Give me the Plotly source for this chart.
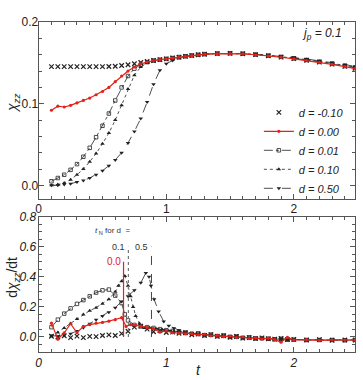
import plotly.graph_objects as go

# ---------------- data ----------------
legend_names = ["d = -0.10", "d = 0.00", "d = 0.01", "d = 0.10", "d = 0.50"]

# top panel: chi_zz(t)
t_top = [0.10, 0.15, 0.20, 0.25, 0.30, 0.35, 0.40, 0.45, 0.50, 0.55,
         0.60, 0.65, 0.70, 0.75, 0.80, 0.85, 0.90, 0.95, 1.00, 1.05,
         1.10, 1.15, 1.20, 1.25, 1.30, 1.40, 1.50, 1.60, 1.70, 1.80,
         1.90, 2.00, 2.10, 2.20, 2.30, 2.40, 2.48]
chi_m010 = [0.1455, 0.1455, 0.1455, 0.1455, 0.1455, 0.1455, 0.1455, 0.1455, 0.1455, 0.1456,
            0.1460, 0.1468, 0.1478, 0.1490, 0.1505, 0.1518, 0.1530, 0.1540, 0.1550, 0.1560,
            0.1570, 0.1580, 0.1590, 0.1600, 0.1607, 0.1615, 0.1617, 0.1612, 0.1602, 0.1588,
            0.1572, 0.1553, 0.1533, 0.1510, 0.1485, 0.1458, 0.1435]
chi_000 = [0.092, 0.097, 0.096, 0.098, 0.101, 0.104, 0.107, 0.111, 0.115, 0.120,
           0.127, 0.134, 0.140, 0.145, 0.149, 0.151, 0.153, 0.154, 0.155, 0.156,
           0.1570, 0.1580, 0.1590, 0.1598, 0.1605, 0.1613, 0.1615, 0.1612, 0.1600, 0.1587,
           0.1570, 0.1550, 0.1530, 0.1508, 0.1483, 0.1455, 0.1430]
chi_001 = [0.005, 0.009, 0.013, 0.019, 0.026, 0.035, 0.046, 0.059, 0.073, 0.088,
           0.104, 0.120, 0.134, 0.143, 0.148, 0.151, 0.153, 0.154, 0.155, 0.156,
           0.1572, 0.1582, 0.1592, 0.1600, 0.1608, 0.1616, 0.1618, 0.1613, 0.1603, 0.1590,
           0.1574, 0.1556, 0.1536, 0.1513, 0.1488, 0.1462, 0.1437]
chi_010 = [0.000, 0.001, 0.003, 0.007, 0.013, 0.020, 0.029, 0.039, 0.051, 0.064,
           0.080, 0.098, 0.118, 0.135, 0.145, 0.150, 0.152, 0.154, 0.155, 0.156,
           0.1570, 0.1580, 0.1590, 0.1600, 0.1607, 0.1615, 0.1618, 0.1614, 0.1605, 0.1592,
           0.1577, 0.1560, 0.1541, 0.1519, 0.1495, 0.1470, 0.1448]
chi_050 = [0.000, 0.000, 0.001, 0.002, 0.004, 0.006, 0.009, 0.013, 0.018, 0.024,
           0.031, 0.040, 0.052, 0.066, 0.082, 0.102, 0.124, 0.141, 0.149, 0.153,
           0.1560, 0.1580, 0.1590, 0.1600, 0.1607, 0.1615, 0.1618, 0.1615, 0.1607, 0.1596,
           0.1582, 0.1566, 0.1548, 0.1527, 0.1505, 0.1480, 0.1458]

# bottom panel: d chi_zz / dt
t_tail = [1.10, 1.15, 1.20, 1.25, 1.30, 1.35, 1.40, 1.45, 1.50, 1.55, 1.60, 1.65,
          1.70, 1.75, 1.80, 1.85, 1.90, 1.95, 2.00, 2.10, 2.20, 2.30, 2.40, 2.48]

t_dm010 = [0.10, 0.15, 0.20, 0.25, 0.30, 0.35, 0.40, 0.45, 0.50, 0.55,
           0.60, 0.65, 0.70, 0.75, 0.80, 0.85, 0.90, 0.95, 1.00, 1.05]
dchi_m010 = [0.005, 0.000, 0.008, -0.004, 0.006, -0.004, 0.004, 0.002, 0.010, 0.014,
             0.010, 0.022, 0.038, 0.065, 0.072, 0.052, 0.035, 0.042, 0.030, 0.032]
tail_m010 = [0.025, 0.028, 0.015, 0.020, 0.010, 0.016, 0.004, 0.008, -0.002, 0.003, -0.008, -0.004,
             -0.010, -0.006, -0.012, -0.014, -0.010, -0.018, -0.016, -0.020, -0.018, -0.022, -0.020, -0.020]

t_d000 = [0.10, 0.15, 0.20, 0.25, 0.30, 0.35, 0.40, 0.45, 0.50, 0.55,
          0.60, 0.65, 0.685, 0.72, 0.76, 0.80, 0.85, 0.90, 0.95, 1.00, 1.05]
dchi_000 = [0.092, -0.015, 0.028, 0.088, 0.028, 0.070, 0.082, 0.092, 0.097, 0.105,
            0.115, 0.128, 0.070, 0.082, 0.078, 0.070, 0.062, 0.055, 0.032, 0.040, 0.028]
tail_000 = [0.026, 0.020, 0.022, 0.014, 0.018, 0.008, 0.010, 0.002, 0.006, -0.004, 0.000, -0.010,
            -0.006, -0.014, -0.008, -0.016, -0.035, -0.002, -0.020, -0.018, -0.022, -0.020, -0.020, -0.020]

t_d001 = [0.10, 0.15, 0.20, 0.25, 0.30, 0.35, 0.40, 0.45, 0.50, 0.55,
          0.60, 0.65, 0.675, 0.70, 0.75, 0.80, 0.85, 0.90, 0.95, 1.00, 1.05]
dchi_001 = [0.065, 0.115, 0.155, 0.190, 0.220, 0.245, 0.270, 0.295, 0.310, 0.315,
            0.275, 0.225, 0.150, 0.110, 0.080, 0.070, 0.065, 0.060, 0.052, 0.045, 0.040]
tail_001 = [0.035, 0.030, 0.022, 0.024, 0.012, 0.016, 0.006, 0.010, 0.000, 0.004, -0.006, -0.002,
            -0.010, -0.008, -0.012, -0.016, -0.012, -0.018, -0.018, -0.020, -0.020, -0.020, -0.022, -0.020]

t_d010 = [0.10, 0.15, 0.20, 0.25, 0.30, 0.35, 0.40, 0.45, 0.50, 0.55,
          0.60, 0.625, 0.65, 0.675, 0.70, 0.72, 0.74, 0.76, 0.79, 0.83,
          0.87, 0.92, 0.97, 1.02, 1.06]
dchi_010 = [0.005, 0.030, 0.060, 0.090, 0.120, 0.150, 0.175, 0.195, 0.220, 0.250,
            0.300, 0.340, 0.370, 0.405, 0.340, 0.270, 0.200, 0.140, 0.090, 0.060,
            0.062, 0.055, 0.048, 0.040, 0.035]
tail_010 = [0.030, 0.026, 0.020, 0.018, 0.014, 0.012, 0.006, 0.004, 0.002, -0.002, -0.006, -0.008,
            -0.008, -0.012, -0.012, -0.014, -0.016, -0.016, -0.018, -0.020, -0.020, -0.020, -0.020, -0.020]

t_d050 = [0.10, 0.15, 0.20, 0.25, 0.30, 0.35, 0.40, 0.45, 0.50, 0.55,
          0.60, 0.65, 0.70, 0.75, 0.80, 0.84, 0.865, 0.88, 0.905, 0.94,
          0.98, 1.02, 1.06]
dchi_050 = [0.010, 0.004, 0.012, 0.022, 0.040, 0.062, 0.088, 0.114, 0.140, 0.165,
            0.195, 0.235, 0.270, 0.310, 0.360, 0.425, 0.400, 0.340, 0.250, 0.170,
            0.103, 0.075, 0.058]
tail_050 = [0.045, 0.028, 0.024, 0.018, 0.016, 0.010, 0.008, 0.004, 0.002, -0.002, -0.004, -0.006,
            -0.008, -0.010, -0.012, -0.014, -0.014, -0.016, -0.016, -0.018, -0.018, -0.018, -0.020, -0.020]

# t_N markers
tN_labels = ["0.0", "0.1", "0.5"]
tN_values = [0.665, 0.703, 0.884]
tN_tops = [0.50, 0.60, 0.60]

# ---------------- styles ----------------
RED = "#e2231a"
BLK = "#222222"
FONT = "Liberation Sans, Arial, sans-serif"

styles = [
    dict(mode="markers", marker=dict(symbol="x-thin-open", size=4.5, color=BLK, line=dict(width=1.2, color=BLK))),
    dict(mode="lines+markers", line=dict(color=RED, width=1.2),
         marker=dict(symbol="circle", size=3.2, color=RED)),
    dict(mode="lines+markers", line=dict(color=BLK, width=0.8, dash="dashdot"),
         marker=dict(symbol="square-open", size=3.5, color=BLK, line=dict(width=0.8, color=BLK))),
    dict(mode="lines+markers", line=dict(color=BLK, width=0.8, dash="dot"),
         marker=dict(symbol="triangle-up", size=4, color=BLK)),
    dict(mode="lines+markers", line=dict(color=BLK, width=0.8, dash="dash"),
         marker=dict(symbol="triangle-down", size=4, color=BLK)),
]

top_series = [chi_m010, chi_000, chi_001, chi_010, chi_050]
bot_t = [t_dm010 + t_tail, t_d000 + t_tail, t_d001 + t_tail, t_d010 + t_tail, t_d050 + t_tail]
bot_v = [dchi_m010 + tail_m010, dchi_000 + tail_000, dchi_001 + tail_001,
         dchi_010 + tail_010, dchi_050 + tail_050]

fig = go.Figure()
order = [4, 3, 2, 0, 1]  # draw red above others
for i in order:
    fig.add_trace(go.Scatter(x=t_top, y=top_series[i], name=legend_names[i],
                             legendrank=i, xaxis="x", yaxis="y", **styles[i]))
for i in order:
    fig.add_trace(go.Scatter(x=bot_t[i], y=bot_v[i], showlegend=False,
                             xaxis="x2", yaxis="y2", **styles[i]))

# t_N vertical lines
tn_styles = [dict(color=RED, width=1.2, dash="solid"),
             dict(color="#777777", width=1.2, dash="dot"),
             dict(color="#444444", width=1.0, dash="dash")]
for k in range(3):
    fig.add_trace(go.Scatter(x=[tN_values[k], tN_values[k]], y=[0.0, tN_tops[k]],
                             mode="lines", line=tn_styles[k], showlegend=False,
                             xaxis="x2", yaxis="y2", hoverinfo="skip"))
    fig.add_annotation(x=tN_values[k], y=tN_tops[k], xref="x2", yref="y2",
                       text=tN_labels[k], showarrow=False, xanchor="right", yanchor="middle",
                       xshift=-1,
                       font=dict(family=FONT, size=10 if k == 0 else 9,
                                 color=RED if k == 0 else "#333333"))

fig.add_annotation(x=0.58, y=0.705, xref="x2", yref="y2",
                   text="<i>t</i><sub> N</sub> for d  =", showarrow=False,
                   xanchor="center", yanchor="middle",
                   font=dict(family=FONT, size=8, color="#333333"))

axis_common = dict(showline=True, linecolor="#555555", linewidth=1, mirror="ticks",
                   ticks="inside", ticklen=5, tickcolor="#555555", showgrid=False,
                   zeroline=False)
x_dom = [36 / 363, 355 / 363]

fig.update_layout(
    width=363, height=380, margin=dict(l=0, r=0, t=0, b=0),
    paper_bgcolor="white", plot_bgcolor="white",
    font=dict(family=FONT, color="#222222"),
    xaxis=dict(domain=x_dom, range=[0, 2.48], anchor="y", tickvals=[0, 1, 2],
               ticktext=["0", "1", "2"], tickfont=dict(size=12),
               ticklabelstandoff=-2,
               minor=dict(dtick=0.1, tick0=0, ticks="inside", ticklen=3, tickcolor="#555555"),
               **axis_common),
    yaxis=dict(domain=[1 - 196 / 380, 1 - 15 / 380], range=[-0.0172, 0.2005], anchor="x",
               tickvals=[0.0, 0.1, 0.2], ticktext=["0.0", "0.1", "0.2"], tickfont=dict(size=12),
               ticklabelstandoff=-3,
               minor=dict(dtick=0.02, tick0=0, ticks="inside", ticklen=3, tickcolor="#555555"),
               **axis_common),
    xaxis2=dict(domain=x_dom, range=[0, 2.48], anchor="y2", tickvals=[0, 1, 2],
                ticktext=["0", "1", "2"], tickfont=dict(size=12, style="italic"),
                minor=dict(dtick=0.1, tick0=0, ticks="inside", ticklen=3, tickcolor="#555555"),
                **axis_common),
    yaxis2=dict(domain=[1 - 351.5 / 380, 1 - 213.5 / 380], range=[-0.1, 0.8], anchor="x2",
                tickvals=[0.0, 0.2, 0.4, 0.6, 0.8],
                ticktext=["0.0", "0.2", "0.4", "0.6", "0.8"],
                tickfont=dict(size=12, style="italic"),
                ticklabelstandoff=-1,
                minor=dict(dtick=0.05, tick0=0, ticks="inside", ticklen=3, tickcolor="#555555"),
                **axis_common),
    legend=dict(x=258 / 363, y=1 - 146 / 380, xanchor="left", yanchor="middle",
                bgcolor="rgba(0,0,0,0)", borderwidth=0, itemwidth=30,
                font=dict(family=FONT, size=11, style="italic", color="#222222"),
                traceorder="normal"),
    showlegend=True,
)

fig.add_annotation(x=10 / 363, y=1 - 98 / 380, xref="paper", yref="paper",
                   xanchor="center", yanchor="middle",
                   text="<i>χ</i><sub><i>zz</i></sub>", textangle=-90, showarrow=False,
                   font=dict(family=FONT, size=14))
fig.add_annotation(x=10 / 363, y=1 - 275 / 380, xref="paper", yref="paper",
                   xanchor="center", yanchor="middle",
                   text="d<i>χ</i><sub><i>zz</i></sub>/dt", textangle=-90, showarrow=False,
                   font=dict(family=FONT, size=14))
fig.add_annotation(x=197 / 363, y=1 - 370 / 380, xref="paper", yref="paper",
                   xanchor="center", yanchor="middle",
                   text="<i>t</i>", showarrow=False, font=dict(family=FONT, size=14))
fig.add_annotation(x=322 / 363, y=1 - 27 / 380, xref="paper", yref="paper",
                   xanchor="center", yanchor="middle",
                   text="<i>j</i><sub><i>p</i></sub><i> = 0.1</i>", showarrow=False,
                   font=dict(family=FONT, size=12))

fig.write_html("out.html")
